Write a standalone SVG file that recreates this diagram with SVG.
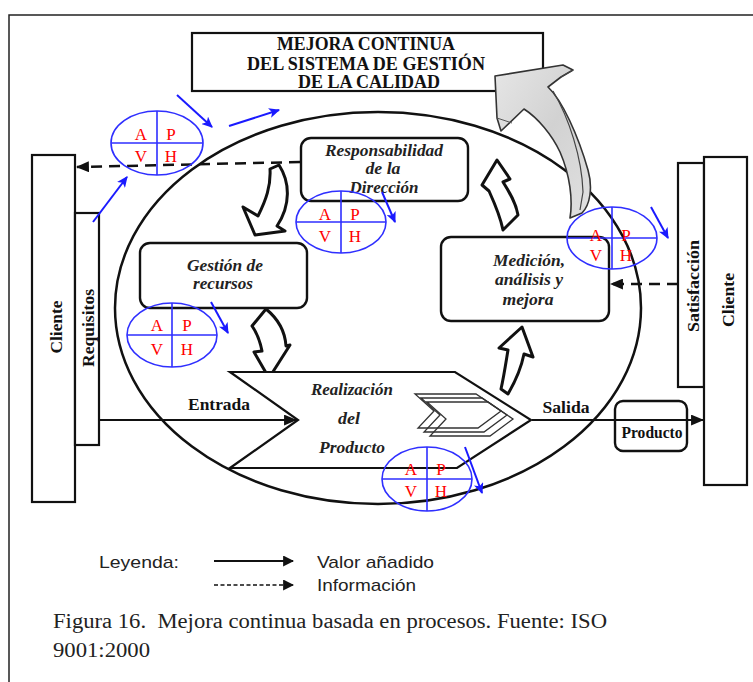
<svg xmlns="http://www.w3.org/2000/svg" width="753" height="682" viewBox="0 0 753 682">
  <style>
    .frame { fill: none; stroke: #222; stroke-width: 1.5; }
    .box { fill: #fff; stroke: #111; stroke-width: 2.2; }
    .rbox { fill: #fff; stroke: #111; stroke-width: 2.4; }
    .title { font: bold 18px "Liberation Serif", serif; fill: #111; text-anchor: middle; }
    .proc { font: italic bold 16.5px "Liberation Serif", serif; fill: #222; text-anchor: middle; }
    .lbl { font: bold 16px "Liberation Serif", serif; fill: #111; text-anchor: middle; }
    .vert { font: bold 17px "Liberation Serif", serif; fill: #111; text-anchor: middle; }
    .pdca { fill: none; stroke: #2f2fff; stroke-width: 1.6; }
    .pdca-t { font: 17px "Liberation Serif", serif; fill: #ff0000; text-anchor: middle; }
    .blue { stroke: #1a1aff; stroke-width: 2; fill: none; marker-end: url(#headBlue); }
    .flow { stroke: #111; stroke-width: 2; fill: none; marker-end: url(#headBlack); }
    .info { stroke: #111; stroke-width: 2.5; fill: none; stroke-dasharray: 11 7; marker-end: url(#headBlack); }
    .block { fill: #fff; stroke: #111; stroke-width: 3; stroke-linejoin: round; }
    .legend { font: 17px "Liberation Sans", Arial, sans-serif; fill: #222; }
    .caption { font: 20px "Liberation Serif", serif; fill: #222; }
  </style>
  <defs>
    <marker id="headBlack" viewBox="0 0 12 10" refX="11" refY="5" markerWidth="13" markerHeight="11" markerUnits="userSpaceOnUse" orient="auto">
      <path d="M0,0 L12,5 L0,10 Z" fill="#111"/>
    </marker>
    <marker id="headBlue" viewBox="0 0 10 9" refX="9" refY="4.5" markerWidth="11" markerHeight="10" markerUnits="userSpaceOnUse" orient="auto">
      <path d="M0,0 L10,4.5 L0,9 L2.5,4.5 Z" fill="#1a1aff"/>
    </marker>
    <marker id="headLegend" viewBox="0 0 10 10" refX="9" refY="5" markerWidth="11" markerHeight="11" markerUnits="userSpaceOnUse" orient="auto">
      <path d="M0,0 L10,5 L0,10 Z" fill="#111"/>
    </marker>
    <linearGradient id="grayArrow" x1="0" y1="0" x2="1" y2="1">
      <stop offset="0" stop-color="#e6e6e6"/>
      <stop offset="0.5" stop-color="#d2d2d2"/>
      <stop offset="1" stop-color="#e0e0e0"/>
    </linearGradient>
  </defs>

  <rect width="753" height="682" fill="#fff"/>
  <!-- page frame (top and left edges only) -->
  <path class="frame" d="M9,682 V15 H753"/>

  <!-- process loop -->
  <ellipse cx="378" cy="308" rx="263" ry="196" fill="none" stroke="#111" stroke-width="2.5"/>

  <g id="title">
    <rect class="box" x="192" y="33" width="351" height="58"/>
    <text class="title" x="366" y="50" textLength="178" lengthAdjust="spacingAndGlyphs">MEJORA CONTINUA</text>
    <text class="title" x="366" y="69.5" textLength="238" lengthAdjust="spacingAndGlyphs">DEL SISTEMA DE GESTIÓN</text>
    <text class="title" x="369" y="88" textLength="142" lengthAdjust="spacingAndGlyphs">DE LA CALIDAD</text>
  </g>

  <g id="cliente-izq">
    <rect class="box" x="32" y="155" width="43" height="347"/>
    <text class="vert" transform="translate(62,327) rotate(-90)" textLength="53" lengthAdjust="spacingAndGlyphs">Cliente</text>
  </g>
  <g id="requisitos">
    <rect class="box" x="75" y="213" width="24" height="232"/>
    <text class="vert" transform="translate(94,328) rotate(-90)" textLength="78" lengthAdjust="spacingAndGlyphs">Requisitos</text>
  </g>

  <g id="satisfaccion">
    <rect class="box" x="678" y="163" width="26" height="224"/>
    <text class="vert" transform="translate(699,286) rotate(-90)" textLength="92" lengthAdjust="spacingAndGlyphs">Satisfacción</text>
  </g>
  <g id="cliente-der">
    <rect class="box" x="704" y="157" width="43" height="328"/>
    <text class="vert" transform="translate(734,300) rotate(-90)" textLength="54" lengthAdjust="spacingAndGlyphs">Cliente</text>
  </g>

  <g id="connectors">
    <!-- value-added flow -->
    <line class="flow" x1="99" y1="420" x2="296" y2="420"/>
    <line class="flow" x1="532" y1="420" x2="703" y2="420"/>
    <!-- information flow -->
    <line class="info" x1="300" y1="162" x2="77" y2="167"/>
    <line class="info" x1="678" y1="284" x2="611" y2="284"/>
    <!-- hollow block arrows between the processes -->
    <path class="block" d="M270,169 L279,165 C290,182 291,205 277,226 L285,231 L255,235 L243,207 L258,216 C266,200 271,186 270,169 Z"/>
    <path class="block" d="M252,326 L266,309 C277,318 285,330 286,346 L290,345 L269,378 L254,352 L262,351 C260,341 257,333 252,326 Z"/>
    <path class="block" d="M522,327 L533,357 L524,354 C521,369 515,382 508,394 L501,389 C504,376 506,362 508,350 L499,348 Z"/>
    <path class="block" d="M497,160 L510,179 L503,182 C510,193 516,203 518,215 L503,230 C500,215 494,202 489,191 L482,185 Z"/>
  </g>

  <g id="responsabilidad">
    <rect class="rbox" x="301" y="138" width="167" height="63" rx="10"/>
    <text class="proc" x="384" y="156" textLength="118" lengthAdjust="spacingAndGlyphs">Responsabilidad</text>
    <text class="proc" x="383" y="174" textLength="35" lengthAdjust="spacingAndGlyphs">de la</text>
    <text class="proc" x="384" y="193" textLength="69" lengthAdjust="spacingAndGlyphs">Dirección</text>
  </g>

  <g id="gestion">
    <rect class="rbox" x="140" y="243" width="167" height="65" rx="10"/>
    <text class="proc" x="225" y="271" textLength="76" lengthAdjust="spacingAndGlyphs">Gestión de</text>
    <text class="proc" x="223" y="289" textLength="60" lengthAdjust="spacingAndGlyphs">recursos</text>
  </g>

  <g id="medicion">
    <rect class="rbox" x="441" y="237" width="168" height="84" rx="10"/>
    <text class="proc" x="529" y="266" textLength="72" lengthAdjust="spacingAndGlyphs">Medición,</text>
    <text class="proc" x="529" y="285" textLength="68" lengthAdjust="spacingAndGlyphs">análisis y</text>
    <text class="proc" x="528" y="305" textLength="51" lengthAdjust="spacingAndGlyphs">mejora</text>
  </g>

  <g id="realizacion">
    <path d="M230,372 L455,372 L531,420 L457,468 L230,468 L298,420 Z" fill="#fff" stroke="#111" stroke-width="2.2" stroke-linejoin="miter"/>
    <g fill="none" stroke="#333" stroke-width="1.3">
      <path d="M415,394 L476,394 L501,411 L478,428 L418,428 L434,411 Z"/>
      <path d="M415,394 L476,394 L501,411 L478,428 L418,428 L434,411 Z" transform="translate(6,4)"/>
      <path d="M415,394 L476,394 L501,411 L478,428 L418,428 L434,411 Z" transform="translate(12,8)"/>
    </g>
    <text class="proc" x="352" y="395" textLength="82" lengthAdjust="spacingAndGlyphs">Realización</text>
    <text class="proc" x="349" y="424" textLength="22" lengthAdjust="spacingAndGlyphs">del</text>
    <text class="proc" x="352" y="453" textLength="66" lengthAdjust="spacingAndGlyphs">Producto</text>
  </g>

  <g id="producto">
    <rect class="rbox" x="615" y="401" width="72" height="50" rx="8" style="fill:none"/>
    <text class="lbl" x="652" y="438" textLength="61" lengthAdjust="spacingAndGlyphs">Producto</text>
  </g>

  <g id="flow-labels">
    <text class="lbl" x="219" y="410" textLength="62" lengthAdjust="spacingAndGlyphs">Entrada</text>
    <text class="lbl" x="566" y="413" textLength="47" lengthAdjust="spacingAndGlyphs">Salida</text>
  </g>

  <!-- improvement arrow rising to the quality system -->
  <g id="mejora-flecha">
    <path d="M495,76 L563,65 L573,70 L561,77 L548,87 C562,100 578,135 588,170 C593,188 590,205 582,213 L570,218 C573,200 570,175 560,152 C552,135 538,118 524,109 L501,131 L497,118 Z" fill="url(#grayArrow)" stroke="#333" stroke-width="1.6" stroke-linejoin="round"/>
    <path d="M553,91 C569,118 582,158 583,192 L580,210" fill="none" stroke="#444" stroke-width="1.2"/>
    <path d="M561,77 L573,70" fill="none" stroke="#444" stroke-width="1.2"/>
    <path d="M497,118 L512,123" fill="none" stroke="#555" stroke-width="1"/>
  </g>

  <!-- PDCA cycles (A P / V H) -->
  <g id="pdca-cliente">
    <ellipse class="pdca" cx="157" cy="143" rx="46" ry="32"/>
    <path class="pdca" d="M111,143 H203 M157,111 V175"/>
    <text class="pdca-t" x="141" y="140">A</text><text class="pdca-t" x="171" y="140">P</text>
    <text class="pdca-t" x="141" y="162">V</text><text class="pdca-t" x="171" y="162">H</text>
    <line class="blue" x1="177" y1="95" x2="212" y2="127"/>
    <line class="blue" x1="229" y1="126" x2="279" y2="110"/>
    <line class="blue" x1="93" y1="222" x2="127" y2="177"/>
  </g>
  <g id="pdca-responsabilidad">
    <ellipse class="pdca" cx="341" cy="222" rx="45" ry="31"/>
    <path class="pdca" d="M296,222 H386 M341,191 V253"/>
    <text class="pdca-t" x="325" y="220">A</text><text class="pdca-t" x="355" y="220">P</text>
    <text class="pdca-t" x="325" y="242">V</text><text class="pdca-t" x="355" y="242">H</text>
    <line class="blue" x1="382" y1="192" x2="395" y2="222"/>
  </g>
  <g id="pdca-gestion">
    <ellipse class="pdca" cx="172" cy="335" rx="45" ry="32"/>
    <path class="pdca" d="M127,335 H217 M172,303 V367"/>
    <text class="pdca-t" x="157" y="331">A</text><text class="pdca-t" x="187" y="331">P</text>
    <text class="pdca-t" x="157" y="355">V</text><text class="pdca-t" x="187" y="355">H</text>
    <line class="blue" x1="211" y1="302" x2="228" y2="333"/>
  </g>
  <g id="pdca-medicion">
    <ellipse class="pdca" cx="612" cy="238" rx="45" ry="31"/>
    <path class="pdca" d="M567,238 H657 M612,207 V269"/>
    <text class="pdca-t" x="596" y="241">A</text><text class="pdca-t" x="626" y="241">P</text>
    <text class="pdca-t" x="596" y="261">V</text><text class="pdca-t" x="626" y="261">H</text>
    <line class="blue" x1="651" y1="207" x2="668" y2="238"/>
  </g>
  <g id="pdca-realizacion">
    <ellipse class="pdca" cx="427" cy="479" rx="45" ry="32"/>
    <path class="pdca" d="M382,479 H472 M427,447 V511"/>
    <text class="pdca-t" x="411" y="475">A</text><text class="pdca-t" x="441" y="475">P</text>
    <text class="pdca-t" x="411" y="497">V</text><text class="pdca-t" x="441" y="497">H</text>
    <line class="blue" x1="465" y1="447" x2="482" y2="493"/>
  </g>

  <g id="leyenda">
    <text class="legend" x="99" y="568" textLength="80" lengthAdjust="spacingAndGlyphs">Leyenda:</text>
    <line x1="214" y1="561" x2="293" y2="561" stroke="#111" stroke-width="1.8" marker-end="url(#headLegend)"/>
    <text class="legend" x="317" y="568" textLength="117" lengthAdjust="spacingAndGlyphs">Valor añadido</text>
    <line x1="214" y1="585" x2="293" y2="585" stroke="#111" stroke-width="1.6" stroke-dasharray="4 2.5" marker-end="url(#headLegend)"/>
    <text class="legend" x="317" y="591" textLength="99" lengthAdjust="spacingAndGlyphs">Información</text>
  </g>

  <g id="caption">
    <text class="caption" x="53" y="628" textLength="554" lengthAdjust="spacingAndGlyphs" xml:space="preserve">Figura 16.  Mejora continua basada en procesos. Fuente: ISO</text>
    <text class="caption" x="53" y="657" textLength="97" lengthAdjust="spacingAndGlyphs">9001:2000</text>
  </g>
</svg>
